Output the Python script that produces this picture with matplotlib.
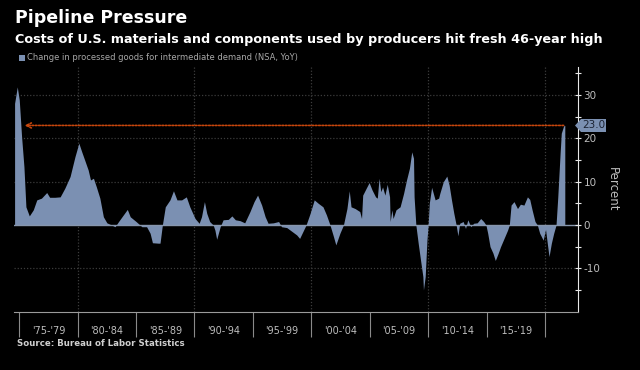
import matplotlib
matplotlib.use("Agg")
import matplotlib.pyplot as plt
from matplotlib.patches import Polygon, Rectangle

# yearly position (decimal year) and YoY change
years = [1974.6, 1974.83, 1975.0, 1975.2, 1975.4, 1975.57, 1975.86, 1976.2, 1976.5, 1976.9,
         1977.35, 1977.6, 1978.05, 1978.5, 1978.9, 1979.35, 1979.77, 1980.1, 1980.35, 1980.6,
         1980.9, 1981.1, 1981.35, 1981.6, 1981.9, 1982.2, 1982.5, 1982.9, 1983.2, 1983.5,
         1983.9, 1984.25, 1984.5, 1985.0, 1985.5, 1985.9, 1986.2, 1986.4, 1986.9, 1987.05,
         1987.25, 1987.5, 1987.9, 1988.2, 1988.5, 1988.9, 1989.3, 1989.6, 1990.05, 1990.4,
         1990.6, 1990.85, 1991.05, 1991.3, 1991.6, 1991.75, 1991.9, 1992.2, 1992.45, 1992.9,
         1993.2, 1993.5, 1993.9, 1994.3, 1994.75, 1995.1, 1995.4, 1995.75, 1996.05, 1996.3,
         1996.75, 1997.2, 1997.45, 1997.9, 1998.3, 1998.75, 1999.0, 1999.55, 1999.9, 2000.25,
         2000.6, 2001.0, 2001.3, 2001.6, 2001.9, 2002.1, 2002.45, 2002.75, 2003.05, 2003.25,
         2003.4, 2003.75, 2004.15, 2004.3, 2004.4, 2004.7, 2004.95, 2005.2, 2005.5, 2005.65,
         2005.8, 2005.95, 2006.1, 2006.3, 2006.5, 2006.7, 2006.75, 2006.9, 2007.0, 2007.25,
         2007.6, 2007.9, 2008.15, 2008.4, 2008.6, 2008.75, 2008.8, 2008.95, 2009.15, 2009.35,
         2009.55, 2009.6, 2009.75, 2009.9, 2010.0, 2010.1, 2010.3, 2010.6, 2010.9, 2011.0,
         2011.3, 2011.6, 2011.8, 2012.0, 2012.2, 2012.4, 2012.55, 2012.7, 2013.0, 2013.2,
         2013.4, 2013.65, 2013.9, 2014.2, 2014.5, 2014.75, 2014.95, 2015.1, 2015.3, 2015.55,
         2015.75, 2016.0, 2016.2, 2016.5, 2016.8, 2016.95, 2017.1, 2017.35, 2017.65, 2017.9,
         2018.2, 2018.5, 2018.7, 2018.9, 2019.15, 2019.35, 2019.55, 2019.85, 2020.05, 2020.2,
         2020.35, 2020.55, 2020.75, 2020.95, 2021.1, 2021.3, 2021.4, 2021.6, 2021.7]
change = [28.1, 31.9, 28.9, 20.4, 13.5, 4.2, 2.1, 3.5, 5.8, 6.2,
          7.5, 6.4, 6.4, 6.5, 8.5, 11.2, 15.8, 18.9, 16.9, 15.0,
          12.7, 10.4, 10.8, 8.8, 6.2, 1.9, 0.5, 0.0, -0.4, 0.8,
          2.3, 3.6, 1.9, 0.8, -0.4, -0.4, -1.9, -4.1, -4.2, -4.2,
          0.0, 4.2, 5.8, 7.9, 5.8, 5.8, 6.5, 4.2, 1.5, 0.4,
          1.9, 5.4, 2.7, 0.8, 0.0, -1.2, -3.3, -0.4, 1.2, 1.3,
          2.1, 1.2, 1.0, 0.5, 3.1, 5.4, 6.9, 4.6, 1.9, 0.4,
          0.5, 0.8, -0.4, -0.6, -1.4, -2.3, -3.1, 0.0, 2.7, 5.8,
          5.0, 4.2, 2.3, 0.0, -2.7, -4.6, -1.9, 0.0, 3.8, 7.9,
          4.2, 3.8, 3.1, 1.5, 6.9, 8.5, 9.8, 8.1, 6.5, 6.2,
          10.8, 7.7, 8.8, 6.9, 9.4, 6.5, 0.8, 3.5, 1.5, 3.5,
          4.2, 7.3, 10.4, 13.1, 16.9, 15.4, 6.5, 0.0, -4.2, -8.1,
          -11.9, -15.0, -11.9, -3.5, 0.0, 5.0, 8.7, 5.8, 6.2, 7.3,
          10.0, 11.3, 9.2, 5.8, 2.7, 0.0, -2.5, 0.4, 0.8, -0.8,
          1.2, -0.4, 0.4, 0.5, 1.5, 0.8, 0.0, -1.9, -5.0, -6.5,
          -8.2, -6.5, -5.0, -3.1, -1.2, 0.0, 4.6, 5.4, 3.8, 4.8,
          4.6, 6.5, 5.9, 3.5, 0.8, 0.0, -1.9, -3.5, -1.0, -4.2,
          -7.3, -4.2, -1.9, 0.0, 6.5, 16.6, 21.2, 22.9, 23.0]

period_labels = ["'75-'79", "'80-'84", "'85-'89", "'90-'94", "'95-'99",
                 "'00-'04", "'05-'09", "'10-'14", "'15-'19"]
period_starts = [1975, 1980, 1985, 1990, 1995, 2000, 2005, 2010, 2015, 2020]
latest = 23.0

W, H = 640, 370
blue = "#7b90b2"
orange = "#c8460c"
grey_txt = "#bdbdbd"

fig = plt.figure(figsize=(W / 100, H / 100), dpi=100, facecolor="black")
ax = fig.add_axes([14 / W, 1 - 312 / H, 564 / W, 245 / H], facecolor="black")

ax.fill_between(years, change, 0, color=blue, linewidth=0)
ax.axhline(0, color="#8796ad", lw=1, zorder=1)
ax.set_xlim(1974.55, 2022.83)
ax.set_ylim(-20.1, 36.5)

for y in [-10, 10, 20, 30]:
    ax.axhline(y, color="#3c3c3c", lw=0.9, ls=(0, (1, 1.5)), zorder=0)
for x in [1980, 1990, 2000, 2010, 2020]:
    ax.axvline(x, color="#3c3c3c", lw=0.9, ls=(0, (1, 1.5)), zorder=0)

# arrow marking the latest reading
ax.annotate("", xy=(1975.45, latest), xytext=(2021.6, latest),
            arrowprops=dict(arrowstyle="->", color=orange, lw=1.2,
                            linestyle=(0, (1, 1)), shrinkA=0, shrinkB=0,
                            mutation_scale=9))

for s in ["top", "left"]:
    ax.spines[s].set_visible(False)
ax.spines["right"].set_color("#e8e8e8")
ax.spines["bottom"].set_color("#9a9a9a")

ax.yaxis.tick_right()
ax.set_yticks([-10, 0, 10, 20, 30])
ax.set_yticklabels(["-10", "0", "10", "20", "30"])
ax.set_yticks([-15, -5, 5, 15, 25, 35], minor=True)
ax.tick_params(axis="y", which="both", direction="inout", length=4, width=0.8,
               colors="#e8e8e8", labelsize=7.5, labelcolor=grey_txt, pad=2)
ax.yaxis.set_label_position("right")
ax.set_ylabel("Percent", rotation=270, color=grey_txt, fontsize=8.5, labelpad=13)

ax.set_xticks(period_starts)
ax.set_xticklabels([])
ax.set_xticks([p + 2.5 for p in period_starts[:-1]], minor=True)
ax.set_xticklabels(period_labels, minor=True)
ax.tick_params(axis="x", which="major", length=18, width=0.8, color="#8a8a8a")
ax.tick_params(axis="x", which="minor", length=0, labelsize=7, labelcolor=grey_txt, pad=10)

# value tag on the right axis
x0, x1, y0, y1 = 579 / W, 606 / W, 1 - 132 / H, 1 - 119 / H
tag = Polygon([(575 / W, (y0 + y1) / 2), (x0 + 2 / W, y1), (x1, y1), (x1, y0), (x0 + 2 / W, y0)],
              closed=True, transform=fig.transFigure, facecolor=blue, edgecolor="none",
              clip_on=False)
fig.patches.append(tag)
fig.text((x0 + x1) / 2 + 1 / W, (y0 + y1) / 2, f"{latest:.1f}", color="#1c2333",
         fontsize=7.5, ha="center", va="center")

fig.text(15 / W, 1 - 18 / H, "Pipeline Pressure", color="white", fontsize=12.5,
         fontweight="bold", va="center")
fig.text(15 / W, 1 - 40 / H,
         "Costs of U.S. materials and components used by producers hit fresh 46-year high",
         color="white", fontsize=9.2, fontweight="bold", va="center")
fig.patches.append(Rectangle((19 / W, 1 - 61 / H), 6 / W, 6 / H, transform=fig.transFigure,
                             facecolor=blue, edgecolor="none"))
fig.text(27 / W, 1 - 58 / H, "Change in processed goods for intermediate demand (NSA, YoY)",
         color="#a8a8a8", fontsize=6.0, va="center")
fig.text(17 / W, 1 - 344 / H, "Source: Bureau of Labor Statistics", color="#d0d0d0",
         fontsize=6.2, fontweight="bold", va="center")

fig.savefig("out.png", dpi=100, facecolor="black")
